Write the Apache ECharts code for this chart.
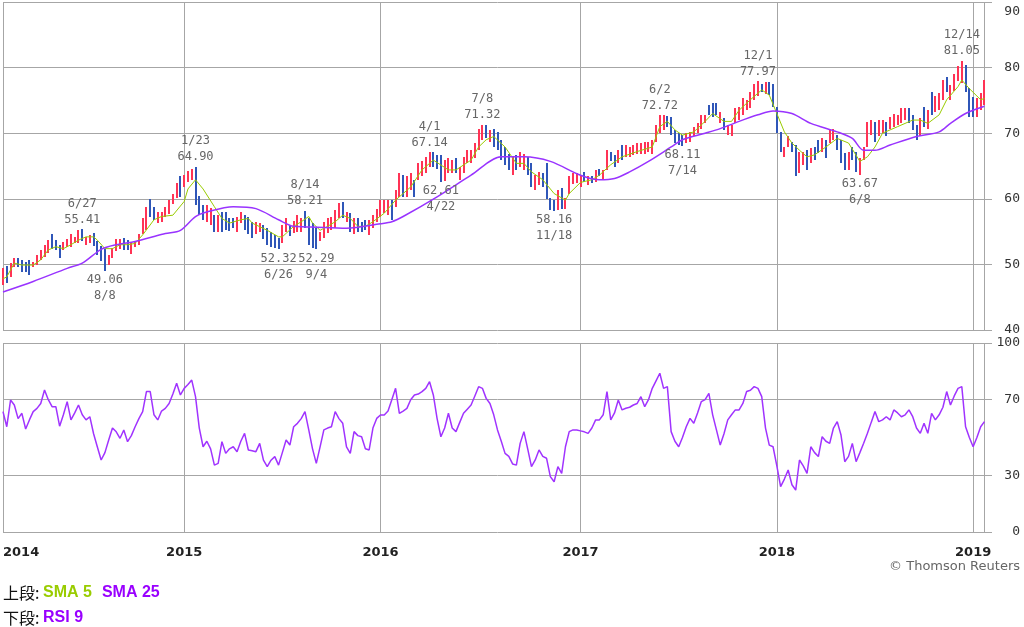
<!DOCTYPE html>
<html>
<head>
<meta charset="utf-8">
<script src="https://cdn.jsdelivr.net/npm/echarts@6.0.0/dist/echarts.min.js"></script>
<style>
  html, body { margin: 0; padding: 0; background: #fff; }
  #chart { width: 1024px; height: 627px; }
</style>
</head>
<body>
<div id="chart"></div>
<script>
// weekly bars, first week ending 2014-01-31 (friday)
var firstWeek = '2014-01-31';
var weekCount = 263; // 261 weeks of data + 2 empty weeks on the right

var hi = [
  49.4,49.7,50.2,50.9,50.9,50.7,50.4,50.7,50.4,51.4,
  52.2,53.0,53.7,54.7,53.7,53.0,53.4,53.9,54.7,54.2,
  55.2,55.41,54.2,54.5,54.8,53.5,52.8,52.3,51.5,52.5,
  53.8,53.8,54.0,53.7,53.3,53.4,54.7,57.0,58.8,60.0,
  58.8,58.0,58.0,58.8,59.8,60.7,62.4,63.4,63.6,64.3,
  64.6,64.9,60.5,59.0,59.0,58.6,57.5,57.5,58.0,58.0,
  57.0,57.0,57.3,58.0,57.5,57.2,56.5,56.5,56.3,56.0,
  55.5,55.0,54.5,54.0,56.0,57.0,56.0,56.6,57.5,57.0,
  58.21,57.0,56.3,55.5,55.0,56.5,57.0,57.3,58.3,59.3,
  59.5,58.0,57.8,57.0,57.0,56.5,56.8,56.8,57.5,58.5,
  59.8,59.8,59.8,59.8,61.3,63.9,63.6,63.4,63.9,62.9,
  65.4,65.7,66.4,67.14,67.1,66.7,66.7,65.9,66.2,65.9,
  66.2,64.9,66.4,67.4,67.4,68.5,70.7,71.32,71.2,70.5,
  70.7,70.2,69.0,67.9,66.9,66.4,66.7,67.2,66.9,66.4,
  65.4,63.6,64.1,63.9,65.4,60.1,59.8,61.3,61.6,60.1,
  63.4,63.9,63.9,63.6,64.1,63.4,63.4,64.4,64.6,64.4,
  67.4,67.2,66.7,67.4,68.2,68.2,67.9,68.2,68.5,68.5,
  68.7,68.7,69.0,71.3,72.72,72.7,72.6,72.5,70.5,70.0,
  69.7,70.0,70.2,71.0,71.5,72.7,72.7,74.3,74.6,74.6,
  73.3,72.3,71.3,71.3,73.8,74.0,75.3,75.1,76.3,77.5,
  77.97,77.5,77.8,77.8,77.5,74.0,70.2,67.9,69.5,68.7,
  68.2,67.2,67.2,67.4,67.7,67.9,69.0,69.2,69.0,70.5,
  70.7,69.7,69.0,67.0,67.2,67.9,67.2,66.2,67.9,71.7,
  72.0,71.7,72.0,72.0,71.7,72.5,73.0,72.8,73.8,73.8,
  73.8,72.8,71.2,72.3,74.0,73.5,76.3,75.6,76.1,78.1,
  78.6,77.3,79.0,80.2,81.05,80.4,76.9,75.5,75.4,76.1,
  78.1
];
var lo = [
  46.9,47.1,48.1,49.6,49.6,48.9,48.9,48.4,49.6,49.9,
  50.7,51.2,51.7,52.4,52.2,50.9,52.2,52.7,52.7,53.2,
  53.2,53.5,53.0,53.2,52.8,51.4,50.5,49.06,49.9,51.0,
  52.0,52.3,52.2,52.2,51.6,52.7,52.9,54.7,55.2,57.2,
  56.8,56.3,56.5,57.3,57.7,59.2,60.1,60.3,61.8,62.5,
  62.9,59.0,57.5,56.8,56.5,56.0,55.0,55.0,55.0,55.3,
  55.1,55.5,55.0,56.3,55.2,54.6,54.0,54.6,55.0,53.8,
  53.0,52.6,52.5,52.32,53.3,55.0,54.3,54.8,55.0,55.0,
  55.5,53.0,52.5,52.29,53.5,54.0,54.8,55.2,55.5,57.0,
  57.0,56.5,55.0,54.6,55.0,55.0,55.2,54.5,55.5,56.5,
  57.3,57.8,57.5,56.8,58.8,60.3,60.3,60.3,61.3,60.3,
  62.9,63.4,63.9,64.9,64.9,64.6,62.61,62.7,63.9,63.9,
  63.9,62.9,63.9,65.4,65.4,66.2,67.4,69.0,69.2,68.7,
  67.9,67.4,65.9,65.2,64.4,63.6,64.4,64.9,64.4,63.6,
  61.8,61.3,62.1,61.8,60.0,58.3,58.16,58.3,58.4,58.5,
  60.8,62.2,62.4,61.8,62.6,62.1,62.4,62.6,63.4,62.9,
  64.4,65.7,64.9,65.4,65.9,66.4,66.4,66.7,66.9,66.9,
  66.9,67.2,66.9,68.7,70.0,70.5,71.0,69.7,68.5,68.2,
  68.11,68.5,68.7,69.5,70.0,70.7,71.5,72.8,72.5,72.8,
  71.5,70.5,69.7,69.5,71.5,72.0,72.8,73.5,73.8,75.0,
  75.6,76.3,76.0,75.8,74.0,70.0,67.2,66.4,67.9,67.2,
  63.4,63.9,65.2,64.4,65.5,65.9,67.0,67.2,66.2,68.5,
  69.0,67.4,65.4,64.4,64.4,65.9,64.1,63.67,65.9,67.9,
  69.7,68.7,69.5,70.0,69.5,70.7,71.0,71.2,71.5,72.0,
  71.5,70.5,68.9,69.5,71.0,70.7,72.8,73.3,73.5,75.1,
  76.3,75.1,76.5,77.9,77.7,76.3,72.5,72.5,72.5,73.5,
  74.3
];
// 1 = up week (red), 0 = down week (blue)
var up = [
  1,0,1,1,0,0,0,0,1,1, 1,1,1,0,0,0,1,1,1,1, 1,0,1,1,0,0,0,0,1,1,
  1,1,0,0,1,1,1,1,1,0, 0,1,1,1,1,1,1,0,1,1, 1,0,0,0,1,1,0,1,0,0,
  0,0,1,1,0,0,0,1,1,0, 0,0,0,0,1,1,0,1,1,1, 0,0,0,0,1,1,1,1,1,1,
  0,1,0,1,0,0,0,1,1,1, 1,1,1,0,1,1,0,1,1,0, 1,1,1,1,0,0,0,1,1,1,
  0,1,1,1,1,1,1,1,0,1, 0,0,0,0,0,1,0,1,1,0, 0,1,1,0,0,0,0,1,0,1,
  1,1,1,1,0,1,0,1,0,1, 1,0,0,1,0,1,1,1,1,1, 1,1,1,1,1,1,0,0,0,0,
  0,1,1,1,1,1,1,0,0,0, 1,0,1,1,1,1,1,1,1,1, 1,0,1,0,0,0,0,1,1,0,
  0,1,1,0,1,0,0,1,0,1, 1,0,0,0,1,0,0,1,1,1, 1,0,1,1,0,1,1,1,1,1,
  0,0,0,1,0,1,0,1,1,1, 0,1,1,1,1,0,0,0,1,1, 1
];
// [week index, value]
var sma5 = [
  [0,47.8],[1,48.1],[3,50.2],[5,49.9],[8,49.9],[10,50.7],[12,52.2],[14,52.7],[16,52.4],[18,53.0],
  [20,53.7],[22,54.2],[24,54.2],[25,53.7],[27,52.4],[29,52.4],[31,53.0],[33,53.0],[35,53.2],[37,54.5],
  [40,56.8],[42,57.3],[45,57.5],[48,59.6],[49,61.5],[51,62.9],[53,61.5],[56,58.8],[58,57.0],[60,56.3],
  [63,56.8],[65,57.0],[66,56.3],[70,55.2],[73,54.2],[74,54.2],[77,55.8],[79,56.5],[81,57.3],[82,56.3],
  [84,55.2],[86,55.8],[88,56.5],[90,57.5],[92,57.0],[94,55.8],[96,55.8],[98,56.5],[101,57.8],[104,59.8],
  [108,61.8],[111,64.4],[114,65.9],[118,64.4],[120,64.4],[124,65.9],[126,67.9],[128,69.0],[130,69.5],[133,67.9],
  [136,65.4],[138,65.4],[140,64.1],[143,62.9],[146,60.8],[149,59.8],[150,60.8],[153,62.5],[156,62.9],[158,63.6],
  [161,65.2],[164,66.4],[168,67.2],[172,67.9],[174,71.0],[176,71.8],[178,70.5],[180,69.7],[183,70.2],[186,71.8],
  [188,73.0],[191,71.8],[193,71.8],[195,73.5],[198,75.1],[201,76.6],[203,75.8],[205,73.0],[207,70.2],[209,68.5],
  [211,67.4],[213,66.4],[215,66.7],[218,67.9],[221,69.2],[224,68.5],[227,65.7],[229,66.4],[231,67.9],[233,70.0],
  [237,71.0],[241,72.0],[243,72.0],[245,71.5],[248,72.8],[250,75.1],[253,77.1],[254,78.1],[256,76.8],[259,75.1],
  [260,75.3]
];
var sma25 = [
  [0,45.8],[8,47.4],[17,49.4],[21,50.2],[26,52.3],[30,53.0],[35,53.5],[39,54.1],[43,54.7],[47,55.2],
  [51,57.3],[54,58.0],[61,58.8],[67,58.5],[73,56.8],[77,55.8],[82,55.7],[91,55.5],[100,56.2],[103,56.5],
  [106,57.3],[115,60.3],[124,63.6],[132,66.4],[138,66.4],[145,65.7],[153,63.6],[158,62.9],[162,63.1],[166,64.1],
  [171,65.7],[177,67.9],[180,69.0],[186,70.0],[190,70.7],[195,71.8],[200,72.8],[204,73.4],[209,73.0],[214,71.5],
  [221,70.2],[225,69.2],[228,67.4],[231,67.4],[235,68.2],[242,69.5],[248,70.2],[251,71.5],[255,73.0],[260,74.1]
];
var rsi9 = [
  63.7,55.7,69.8,67.2,60,62.8,54.5,59.3,63.7,65.4,
  68,75.1,70,66.3,66.3,56,62,69,59.3,63,
  67.2,62,59.3,61,52,45,38.1,42,48.7,55,
  53,49.6,54,47.8,51,55.7,60,63.7,74.3,74.3,
  62,59.3,64,65.4,68,73,78.7,72.5,76,78,
  80.4,71.6,55,45.1,48,44,35.4,36.3,47.8,41.6,
  44,45.1,42.5,48,52.2,43.4,43,42.5,46.9,38,
  34.6,38,39.9,35.4,42,48.7,46,55.7,57.5,60,
  63.7,54,44,36.3,45,54,55,55.7,63.7,60,
  57.5,45,41.6,53.1,51,50.4,44,43.4,55,60.1,
  61.9,61.9,64,70,76,62.8,64,65.4,70,72.5,
  73,74.3,76,79.5,72.5,60,50.4,55,62.8,55,
  53.1,58,62.8,65,67.2,72,76.9,76,70.7,68,
  62,54,48,41.6,40,36,35.4,46.9,53.1,44,
  34.6,38.1,43.4,40,39,29.3,26.6,34.6,31,45.1,
  53.1,54,54,53.5,53,52.2,55,59.3,59.3,62,
  74.3,59.3,63,69.8,64.6,65.5,66,67.2,68,71.6,
  66.3,70,76,80,84,76,76.9,53.1,48,45.1,
  50,55.7,60.1,57.5,63,69,70,73.4,62,54,
  46,52,59.3,62,64.6,64.6,68,74.3,75,76.9,
  76,71.6,55,46,45.1,35,24,28,32.8,25,
  22.2,38.1,35,31,45.1,42,39.9,50.4,48,46.9,
  55,58.4,51.3,37.2,40,46.9,37.2,42,47,52.2,
  58,63.7,58.4,59.3,61,59.3,64.6,63,61,62,
  64.6,61,55,52.2,57.5,52.2,62.8,59.3,62,66,
  74.3,67.2,72,76,76.9,55.7,50,45.1,50,55.7,
  58.4
];
// annotated highs and lows: [date, value]
var highNotes = [
  ['2014-06-27',55.41],['2015-01-23',64.90],['2015-08-14',58.21],['2016-04-01',67.14],
  ['2016-07-08',71.32],['2017-06-02',72.72],['2017-12-01',77.97],['2018-12-14',81.05]
];
var lowNotes = [
  ['2014-08-08',49.06],['2015-06-26',52.32],['2015-09-04',52.29],['2016-04-22',62.61],
  ['2016-11-18',58.16],['2017-07-14',68.11],['2018-06-08',63.67]
];
var priceTicks = [40, 90, 10];    // min, max, step
var rsiLabels = [0, 30, 70, 100];

var weeks = [];
var t0 = new Date(firstWeek + 'T00:00:00Z').getTime();
for (var i = 0; i < weekCount; i++) {
  weeks.push(new Date(t0 + i * 7 * 86400000).toISOString().slice(0, 10));
}
var lastData = hi.length - 1;

function yearStart(idx) {
  return idx === 0 || weeks[idx].slice(0, 4) !== weeks[idx - 1].slice(0, 4);
}
function vLine(idx) {
  return yearStart(idx) || idx === lastData;
}

// one row per week: index, low, high, direction
var bars = [];
for (var k = 0; k <= lastData; k++) {
  bars.push([k, lo[k], hi[k], up[k]]);
}

function md(d) {
  return parseInt(d.slice(5, 7), 10) + '/' + parseInt(d.slice(8, 10), 10);
}
var notes = [];
highNotes.forEach(function (n) {
  notes.push({ coord: [n[0], n[1]], value: n[1],
    label: { position: 'top', formatter: md(n[0]) + '\n' + n[1].toFixed(2) } });
});
lowNotes.forEach(function (n) {
  notes.push({ coord: [n[0], n[1]], value: n[1],
    label: { position: 'bottom', formatter: n[1].toFixed(2) + '\n' + md(n[0]) } });
});

var gridColor = '#a6a6a6';
var monoFont = 'DejaVu Sans Mono';
var none = 'rgba(0,0,0,0)';
var upColor = '#ff3355', downColor = '#2f56b8';
// only 0/30/70/100 get a line, ticks run every 10
var rsiLineColors = [gridColor, none, none, gridColor, none, none, none, gridColor, none, none, gridColor];

function renderBar(params, api) {
  var top = api.coord([api.value(0), api.value(2)]);
  var bot = api.coord([api.value(0), api.value(1)]);
  var y = Math.round(top[1]);
  return {
    type: 'rect',
    shape: { x: Math.round(top[0]) - 1, y: y, width: 2, height: Math.max(1, Math.round(bot[1]) - y) },
    style: { fill: api.value(3) ? upColor : downColor }
  };
}

var chart = echarts.init(document.getElementById('chart'));
chart.setOption({
  animation: false,
  backgroundColor: '#fff',
  title: [
    {
      left: 3, top: 584, padding: 0,
      text: '{k|上段: }{g|SMA 5}  {p|SMA 25}',
      textStyle: { rich: {
        k: { fontFamily: 'Noto Sans CJK JP', fontSize: 16, fontWeight: 'normal', color: '#111' },
        g: { fontFamily: 'Liberation Sans', fontWeight: 'bold', fontSize: 16, color: '#99cc00' },
        p: { fontFamily: 'Liberation Sans', fontWeight: 'bold', fontSize: 16, color: '#9900ff' }
      } }
    },
    {
      left: 3, top: 610, padding: 0,
      text: '{k|下段: }{p|RSI 9}',
      textStyle: { rich: {
        k: { fontFamily: 'Noto Sans CJK JP', fontSize: 16, fontWeight: 'normal', color: '#111' },
        p: { fontFamily: 'Liberation Sans', fontWeight: 'bold', fontSize: 16, color: '#9900ff' }
      } }
    },
    {
      right: 4, top: 560, padding: 0,
      text: '© Thomson Reuters',
      textStyle: { fontFamily: 'DejaVu Sans', fontSize: 13, fontWeight: 'normal', color: '#666' }
    }
  ],
  grid: [
    { left: 3, top: 2, width: 989, height: 328 },
    { left: 3, top: 343, width: 989, height: 189 }
  ],
  xAxis: [
    {
      type: 'category', gridIndex: 0, data: weeks, boundaryGap: false,
      axisLine: { show: false }, axisTick: { show: false }, axisLabel: { show: false },
      splitLine: { show: true, interval: vLine, lineStyle: { color: gridColor, width: 1 } }
    },
    {
      type: 'category', gridIndex: 1, data: weeks, boundaryGap: false,
      axisLine: { show: false }, axisTick: { show: false },
      axisLabel: {
        interval: yearStart, margin: 14, alignMinLabel: 'left',
        fontFamily: 'DejaVu Sans', fontSize: 13, fontWeight: 'bold', color: '#222',
        formatter: function (v) { return v.slice(0, 4); }
      },
      splitLine: { show: true, interval: vLine, lineStyle: { color: gridColor, width: 1 } }
    }
  ],
  yAxis: [
    {
      type: 'value', gridIndex: 0, position: 'right',
      min: priceTicks[0], max: priceTicks[1], interval: priceTicks[2],
      axisLine: { show: false }, axisTick: { show: false },
      axisLabel: {
        align: 'right', margin: 28, fontFamily: monoFont, fontSize: 13, color: '#333',
        verticalAlignMaxLabel: 'top',
        formatter: function (v) { return v === priceTicks[1] ? '{t|' + v + '}' : String(v); },
        rich: { t: { fontFamily: monoFont, fontSize: 13, color: '#333', padding: [3, 0, 0, 0] } }
      },
      splitLine: { lineStyle: { color: gridColor, width: 1 } }
    },
    {
      type: 'value', gridIndex: 1, position: 'right', min: 0, max: 100, interval: 10,
      axisLine: { show: false }, axisTick: { show: false },
      axisLabel: { align: 'right', margin: 28, fontFamily: monoFont, fontSize: 13, color: '#333',
        formatter: function (v) { return rsiLabels.indexOf(v) >= 0 ? String(v) : ''; } },
      splitLine: { lineStyle: { color: rsiLineColors, width: 1 } }
    }
  ],
  series: [
    {
      name: 'price', type: 'custom', xAxisIndex: 0, yAxisIndex: 0,
      data: bars, renderItem: renderBar, silent: true,
      encode: { x: 0, y: [1, 2] }
    },
    {
      name: 'SMA 5', type: 'line', xAxisIndex: 0, yAxisIndex: 0, data: sma5,
      symbol: 'none', silent: true, lineStyle: { color: '#99cc00', width: 1 },
      markPoint: {
        symbol: 'circle', symbolSize: 1, silent: true,
        itemStyle: { color: none },
        label: { show: true, distance: 1, fontFamily: monoFont, fontSize: 12, lineHeight: 16, color: '#666' },
        data: notes
      }
    },
    {
      name: 'SMA 25', type: 'line', xAxisIndex: 0, yAxisIndex: 0, data: sma25,
      symbol: 'none', silent: true, smooth: 0.3, lineStyle: { color: '#9933ff', width: 1.5 }
    },
    {
      name: 'RSI 9', type: 'line', xAxisIndex: 1, yAxisIndex: 1, data: rsi9,
      symbol: 'none', silent: true, lineStyle: { color: '#a033ff', width: 1.5 }
    }
  ]
});
</script>
</body>
</html>
